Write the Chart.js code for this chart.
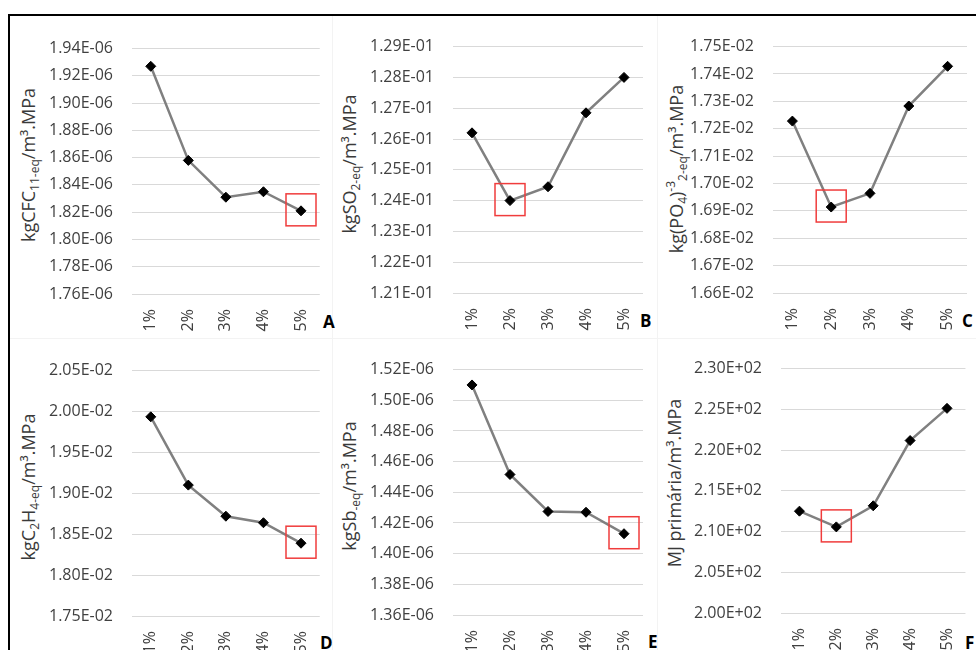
<!DOCTYPE html>
<html><head><meta charset="utf-8">
<script src="https://cdn.jsdelivr.net/npm/chart.js@4.4.1/dist/chart.umd.min.js"></script>
<style>
html,body{margin:0;padding:0;background:#fff;width:976px;height:650px;overflow:hidden;position:relative;font-family:'Open Sans',sans-serif;}
.frame-top{position:absolute;left:8px;top:14px;width:968px;height:2px;background:#000;}
.frame-left{position:absolute;left:8px;top:14px;width:2px;height:640px;background:#000;}
.sep{position:absolute;background:#f3f3f3;}
canvas{position:absolute;}
.ytitle{position:absolute;transform:translate(-50%,-50%) rotate(-90deg);white-space:nowrap;font-size:18px;color:#3a3a3a;line-height:1;}
.ytitle sub{font-size:12px;vertical-align:-4px;}
.ytitle sup{font-size:12px;vertical-align:8px;}
.tag{position:absolute;font-weight:bold;font-size:17px;color:#000;line-height:1;}
</style></head>
<body>
<div class="sep" style="left:332px;top:16px;width:1px;height:322px"></div>
<div class="sep" style="left:657px;top:16px;width:1px;height:322px"></div>
<div class="sep" style="left:10px;top:338px;width:966px;height:1px"></div>
<div class="sep" style="left:332px;top:338px;width:1px;height:312px"></div>
<div class="sep" style="left:657px;top:338px;width:1px;height:312px"></div>
<div class="frame-top"></div>
<div class="frame-left"></div>

<div class="ytitle" style="left:30px;top:165px">kgCFC<sub>11-eq</sub>/m³.MPa</div>
<div class="ytitle" style="left:351px;top:164px">kgSO<sub>2-eq</sub>/m³.MPa</div>
<div class="ytitle" style="left:677px;top:169px">kg(PO<sub>4</sub>)<sup>-3</sup><sub>2-eq</sub>/m³.MPa</div>
<div class="ytitle" style="left:30px;top:487px">kgC<sub>2</sub>H<sub>4-eq</sub>/m³.MPa</div>
<div class="ytitle" style="left:351px;top:486px">kgSb<sub>-eq</sub>/m³.MPa</div>
<div class="ytitle" style="left:674px;top:483px">MJ primária/m³.MPa</div>

<div class="tag" style="left:323px;top:313px">A</div>
<div class="tag" style="left:640px;top:312px">B</div>
<div class="tag" style="left:962px;top:312px">C</div>
<div class="tag" style="left:320px;top:634px">D</div>
<div class="tag" style="left:648px;top:633px">E</div>
<div class="tag" style="left:965px;top:634px">F</div>

<script>
const categories = ['1%', '2%', '3%', '4%', '5%'];

const valuesA = [1.927e-6, 1.858e-6, 1.831e-6, 1.835e-6, 1.821e-6];
const valuesB = [0.1262, 0.1240, 0.12445, 0.12685, 0.1280];
const valuesC = [0.017228, 0.016914, 0.016964, 0.017283, 0.017428];
const valuesD = [0.019935, 0.01910, 0.01872, 0.01864, 0.01839];
const valuesE = [1.510e-6, 1.4516e-6, 1.4275e-6, 1.427e-6, 1.413e-6];
const valuesF = [212.5, 210.57, 213.16, 221.17, 225.12];

const ticksA = [1.76e-6, 1.78e-6, 1.80e-6, 1.82e-6, 1.84e-6, 1.86e-6, 1.88e-6, 1.90e-6, 1.92e-6, 1.94e-6];
const ticksB = [0.121, 0.122, 0.123, 0.124, 0.125, 0.126, 0.127, 0.128, 0.129];
const ticksC = [0.0166, 0.0167, 0.0168, 0.0169, 0.0170, 0.0171, 0.0172, 0.0173, 0.0174, 0.0175];
const ticksD = [0.0175, 0.0180, 0.0185, 0.0190, 0.0195, 0.0200, 0.0205];
const ticksE = [1.36e-6, 1.38e-6, 1.40e-6, 1.42e-6, 1.44e-6, 1.46e-6, 1.48e-6, 1.50e-6, 1.52e-6];
const ticksF = [200, 205, 210, 215, 220, 225, 230];

const highlightIndex = [4, 1, 1, 4, 4, 1];

// chart-area placement on the page (left, top, right, bottom)
const panels = [
  { values: valuesA, ticks: ticksA, area: [132, 35, 320, 294] },
  { values: valuesB, ticks: ticksB, area: [453, 33, 643, 293] },
  { values: valuesC, ticks: ticksC, area: [773, 33, 967, 293] },
  { values: valuesD, ticks: ticksD, area: [132, 357, 320, 616] },
  { values: valuesE, ticks: ticksE, area: [453, 356, 643, 615] },
  { values: valuesF, ticks: ticksF, area: [781, 355, 966, 613] }
];

function sci(v) {
  const s = Number(v).toExponential(2);
  const parts = s.split('e');
  const n = parseInt(parts[1], 10);
  return parts[0] + 'E' + (n < 0 ? '-' : '+') + String(Math.abs(n)).padStart(2, '0');
}

const boxPlugin = {
  id: 'hl',
  afterDatasetsDraw(chart, args, opts) {
    const p = chart.getDatasetMeta(0).data[opts.index];
    if (!p) return;
    const ctx = chart.ctx;
    ctx.save();
    ctx.strokeStyle = '#f03c3c';
    ctx.lineWidth = 1.5;
    ctx.strokeRect(p.x - 15, p.y - 17, 30, 32);
    ctx.restore();
  }
};

const Y_W = 110, X_H = 50, PAD_T = 15, PAD_R = 8;

panels.forEach((pn, i) => {
  const [l, t, r, b] = pn.area;
  const cv = document.createElement('canvas');
  const w = (r - l) + Y_W + PAD_R;
  const h = (b - t) + PAD_T + X_H;
  cv.width = w; cv.height = h;
  cv.style.left = (l - Y_W) + 'px';
  cv.style.top = (t - PAD_T) + 'px';
  cv.style.width = w + 'px'; cv.style.height = h + 'px';
  document.body.appendChild(cv);
  const tk = pn.ticks;
  new Chart(cv, {
    type: 'line',
    data: {
      labels: categories,
      datasets: [{
        data: pn.values,
        borderColor: '#808080',
        borderWidth: 2.5,
        tension: 0,
        pointStyle: 'rectRot',
        pointRadius: 5,
        pointBackgroundColor: '#000',
        pointBorderColor: '#000',
        pointBorderWidth: 1,
        clip: false
      }]
    },
    options: {
      responsive: false,
      animation: false,
      devicePixelRatio: 1,
      layout: { padding: { top: PAD_T, right: PAD_R, left: 0, bottom: 0 } },
      plugins: { legend: { display: false }, tooltip: { enabled: false }, hl: { index: highlightIndex[i] } },
      scales: {
        x: {
          type: 'category',
          offset: true,
          grid: { display: false },
          border: { display: false },
          ticks: { minRotation: 90, maxRotation: 90, padding: 7, color: '#404040', font: { family: 'Open Sans', size: 16 } },
          afterFit: s => { s.height = X_H; }
        },
        y: {
          min: tk[0],
          max: tk[tk.length - 1],
          afterBuildTicks: s => { s.ticks = tk.map(v => ({ value: v })); },
          afterFit: s => { s.width = Y_W; },
          border: { display: false },
          grid: { color: '#d9d9d9', lineWidth: 1, drawTicks: false },
          ticks: { padding: 19, color: '#404040', autoSkip: false, font: { family: 'Open Sans', size: 16 }, callback: v => sci(v) }
        }
      }
    },
    plugins: [boxPlugin]
  });
});
</script>
</body></html>
